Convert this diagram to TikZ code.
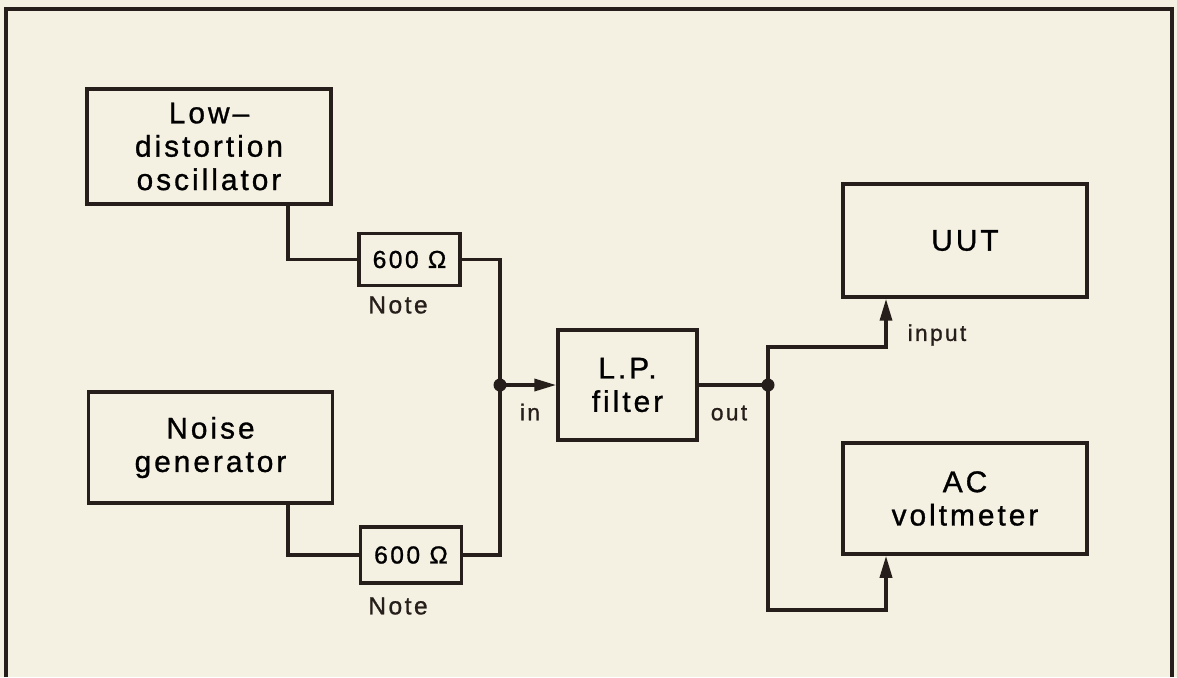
\documentclass[tikz,border=0pt]{standalone}
\usepackage{fontspec}
\usepackage{tikz}
\usetikzlibrary{positioning,arrows.meta,calc}
\newfontfamily\diafont[LetterSpace=10,FakeBold=1]{Liberation Sans}
\definecolor{paper}{RGB}{244,240,226}
\definecolor{ink}{RGB}{38,30,26}
\tikzset{
  unitbox/.style={draw=ink, line width=2pt, align=center, inner sep=0pt,
    minimum width=4.88cm, font=\diafont\fontsize{17}{19}\selectfont},
  padbox/.style={draw=ink, line width=2pt, inner sep=0pt, minimum width=2.02cm,
    minimum height=1.04cm, font=\diafont\fontsize{14}{16}\selectfont},
  tag/.style={text=ink, inner sep=0pt, font=\diafont\fontsize{13}{15}\selectfont},
  wire/.style={draw=ink, line width=2pt},
  feed/.style={wire, -{Triangle[length=0.44cm,width=0.24cm]}},
  joint/.style={circle, fill=ink, inner sep=0pt, minimum size=0.26cm}
}
\begin{document}
\begin{tikzpicture}[x=0.02cm, y=-0.02cm]
\useasboundingbox[fill=paper] (0,0) rectangle (1177,677);
% frame
\draw[ink, line width=2pt] (6,677) -- (6,9) -- (1172,9) -- (1172,677);

% sources
\node[unitbox, minimum height=2.3cm] (osc) at (209,146.5) {Low–\\distortion\\oscillator};
\node[unitbox, minimum height=2.22cm] (noise) at (210.5,447.5) {Noise\\generator};

% 600 ohm pads
\node[padbox] (pada) at (409.5,259.5) {600 Ω};
\node[tag, font=\diafont\fontsize{14}{16}\selectfont] (notea) at (398,305) {Note};
\node[padbox, minimum height=1.12cm] (padb) at (411,555) {600 Ω};
\node[tag, font=\diafont\fontsize{14}{16}\selectfont] (noteb) at (398,606) {Note};

% filter
\node[unitbox, minimum width=2.78cm, minimum height=2.2cm] (lpf) at (627.5,385) {L.P.\\filter};
\node[tag] (inlbl) at (530,412) {in};
\node[tag] (outlbl) at (729,413) {out};

% loads
\node[unitbox, minimum height=2.26cm] (uut) at (965,240.5) {UUT};
\node[unitbox, minimum height=2.22cm] (volt) at (965,498.5) {AC\\voltmeter};
\node[tag] (inputlbl) at (937,335) {input};

% taps and joints
\coordinate (tapa) at (288,204);
\coordinate (tapb) at (288,503);
\coordinate (jin) at (500,385);
\coordinate (jout) at (768,385);
\coordinate (tapu) at (886,347);
\coordinate (tapv) at (886,610);

% wiring
\draw[wire] (tapa) |- (pada.west);
\draw[wire] (tapb) |- (padb.west);
\draw[wire] (pada.east) -| (jin);
\draw[wire] (padb.east) -| (jin);
\draw[feed] (jin) -- (lpf.west);
\draw[wire] (lpf.east) -- (jout);
\draw[feed] (jout) |- (tapu) -- (uut.south -| tapu);
\draw[feed] (jout) |- (tapv) -- (volt.south -| tapv);
\node[joint] (jinpt) at (jin) {};
\node[joint] (joutpt) at (jout) {};
\end{tikzpicture}
\end{document}
